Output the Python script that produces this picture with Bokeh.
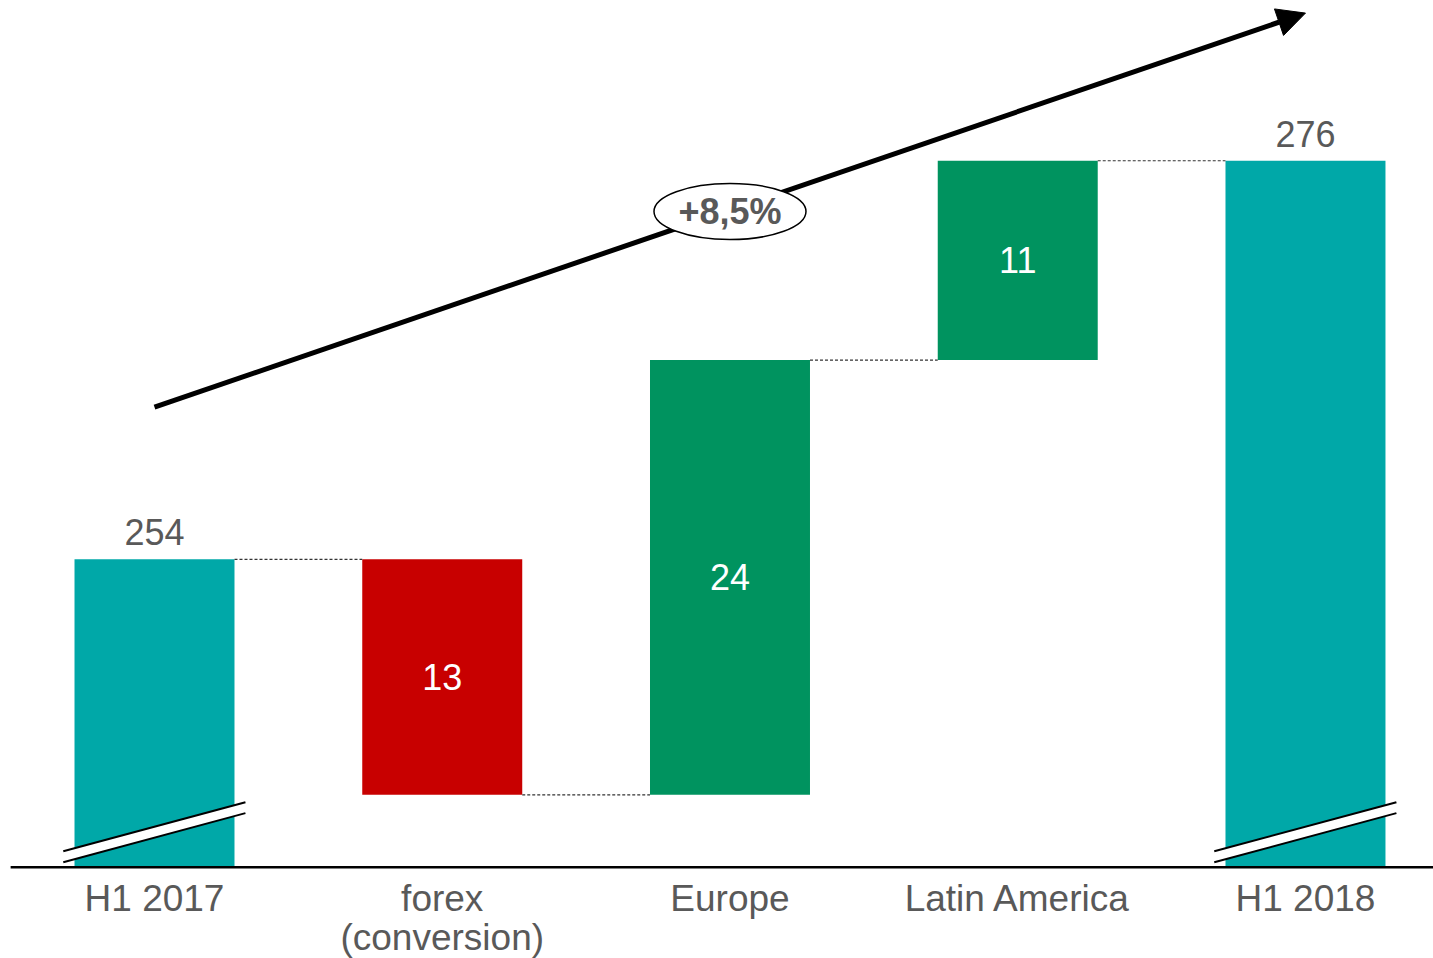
from bokeh.plotting import figure
from bokeh.models import Range1d, Arrow, NormalHead, ColumnDataSource
from bokeh.embed import file_html
from bokeh.resources import INLINE
from bokeh.core.properties import value

# ---------------- data ----------------
categories = ["H1 2017", "forex\n(conversion)", "Europe", "Latin America", "H1 2018"]
kinds = ["total", "decrease", "increase", "increase", "total"]
amounts = [254, 13, 24, 11, 276]
growth_label = "+8,5%"
axis_floor = 237  # broken axis starts here

# ---------------- styles ----------------
FONT = value("Liberation Sans")
GRAY = "#595959"
colors = {"total": "#00A8A8", "decrease": "#C80000", "increase": "#00935F"}
BAR_W = 0.556

# ---------------- waterfall geometry ----------------
xs = list(range(len(categories)))
bottoms, tops, levels = [], [], []
level = 0
for k, a in zip(kinds, amounts):
    if k == "total":
        bottoms.append(axis_floor); tops.append(a); level = a
    elif k == "increase":
        bottoms.append(level); tops.append(level + a); level += a
    else:
        bottoms.append(level - a); tops.append(level); level -= a
    levels.append(level)

X0, X1 = -0.5352, 4.4449
p = figure(width=1433, height=958, output_backend="svg", toolbar_location=None,
           x_range=Range1d(X0, X1), y_range=Range1d(231.967, 284.846),
           min_border=0, min_border_left=0, min_border_right=0,
           min_border_top=0, min_border_bottom=0)
p.axis.visible = False
p.grid.visible = False
p.outline_line_color = None
p.background_fill_color = "white"
p.border_fill_color = "white"

# trend arrow (under everything)
arrow = Arrow(end=NormalHead(size=28, fill_color="black", line_color="black", line_width=1),
              x_start=xs[0], y_start=262.4, x_end=xs[-1], y_end=284.15,
              line_width=5, line_color="black", level="underlay")
p.add_layout(arrow)

# bars
src = ColumnDataSource(dict(x=xs, bottom=bottoms, top=tops,
                            color=[colors[k] for k in kinds]))
p.vbar(x="x", bottom="bottom", top="top", width=BAR_W, fill_color="color",
       line_color=None, source=src)

# dashed connectors
hw = BAR_W / 2
p.segment(x0=[x + hw for x in xs[:-1]], y0=levels[:-1],
          x1=[x + 1 - hw for x in xs[:-1]], y1=levels[:-1],
          line_color="#333333", line_width=1.2, line_dash="3 2")

# axis break marks on total bars
for x, k in zip(xs, kinds):
    if k != "total":
        continue
    xl, xr = x - 0.317, x + 0.316
    up_l, up_r = axis_floor + 0.89, axis_floor + 3.59
    lo_l, lo_r = axis_floor + 0.28, axis_floor + 2.99
    p.patch([xl, xr, xr, xl], [up_l, up_r, lo_r, lo_l], fill_color="white", line_color=None)
    p.line([xl, xr], [up_l, up_r], line_color="black", line_width=2)
    p.line([xl, xr], [lo_l, lo_r], line_color="black", line_width=2)

# baseline axis
p.segment(x0=[xs[0] - 0.5], y0=[axis_floor], x1=[X1], y1=[axis_floor],
          line_color="black", line_width=2.5)

# value labels
tot_x = [x for x, k in zip(xs, kinds) if k == "total"]
tot_y = [t for t, k in zip(tops, kinds) if k == "total"]
tot_t = [str(a) for a, k in zip(amounts, kinds) if k == "total"]
p.text(x=tot_x, y=tot_y, text=tot_t, y_offset=-27, text_align="center",
       text_baseline="middle", text_font=FONT, text_font_size="36px", text_color=GRAY)

d_x = [x for x, k in zip(xs, kinds) if k != "total"]
d_y = [(b + t) / 2 for b, t, k in zip(bottoms, tops, kinds) if k != "total"]
d_t = [str(a) for a, k in zip(amounts, kinds) if k != "total"]
p.text(x=d_x, y=d_y, text=d_t, text_align="center", text_baseline="middle",
       text_font=FONT, text_font_size="36px", text_color="white")

# category labels (split into lines)
for i, c in enumerate(categories):
    for j, line in enumerate(c.split("\n")):
        p.text(x=[xs[i]], y=[axis_floor], text=[line], y_offset=31 + 39 * j,
               text_align="center", text_baseline="middle", text_font=FONT,
               text_font_size="37px", text_color=GRAY)

# growth badge
p.ellipse(x=[2], y=[273.2], width=152, height=56, width_units="screen",
          height_units="screen", fill_color="white", line_color="black", line_width=1.5)
p.text(x=[2], y=[273.2], text=[growth_label], text_align="center", text_baseline="middle",
       text_font=FONT, text_font_size="36px", text_font_style="bold", text_color=GRAY)

open("out.html", "w").write(file_html(p, INLINE))
